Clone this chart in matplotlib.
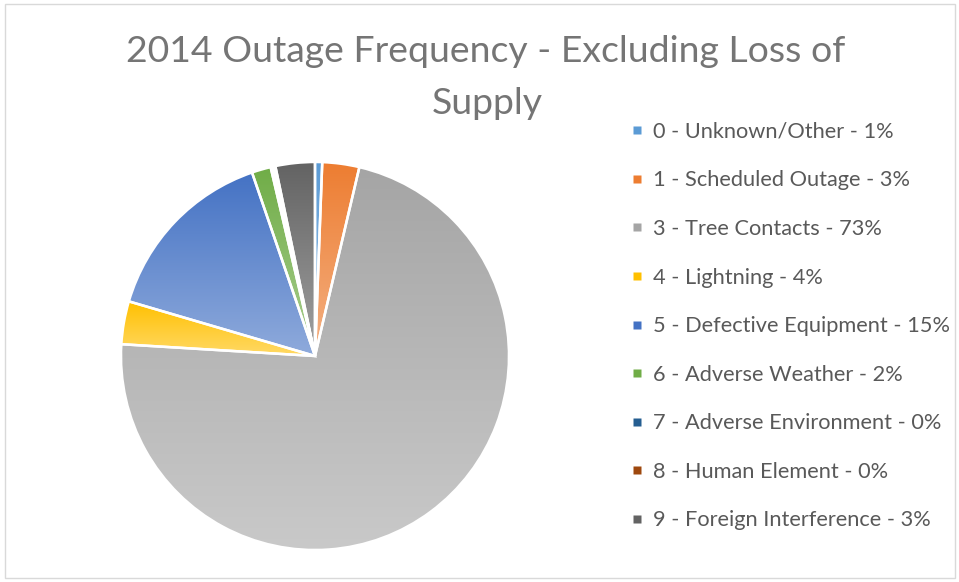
import numpy as np
import matplotlib
matplotlib.use("Agg")
import matplotlib.pyplot as plt
from matplotlib.colors import to_rgb
from matplotlib.lines import Line2D
from matplotlib.patches import Rectangle

## Data
categories = ["0 - Unknown/Other", "1 - Scheduled Outage", "3 - Tree Contacts",
              "4 - Lightning", "5 - Defective Equipment", "6 - Adverse Weather",
              "7 - Adverse Environment", "8 - Human Element", "9 - Foreign Interference"]
shares = [0.6, 3.1, 72.8, 3.6, 15.3, 1.6, 0.2, 0.2, 3.3]
pct_labels = ["1%", "3%", "73%", "4%", "15%", "2%", "0%", "0%", "3%"]
colors = ["#5B9BD5", "#ED7D31", "#A5A5A5", "#FFC000", "#4472C4",
          "#70AD47", "#255E91", "#9E480E", "#636363"]

plt.rcParams['font.family'] = ['Lato', 'DejaVu Sans']

W, H = 959, 582
fig = plt.figure(figsize=(W / 100, H / 100), dpi=100)

## chart border
fig.patches.append(Rectangle((5 / W, 4 / H), 950 / W, 574 / H, transform=fig.transFigure,
                             fill=False, edgecolor="#D9D9D9", linewidth=1))

cx, cy, r = 315, 356, 194
ax = fig.add_axes([(cx - r) / W, (H - cy - r) / H, 2 * r / W, 2 * r / H])
wedges, _ = ax.pie(shares, colors=colors, startangle=90, counterclock=False,
                   wedgeprops=dict(edgecolor="white", linewidth=1.8))
ax.set_aspect("equal")
ax.axis("off")

## gradient fill per slice: base colour at top, lighter tint at bottom
for w, c in zip(wedges, colors):
    base = np.array(to_rgb(c))
    light = base + (1 - base) * 0.4
    bb = w.get_path().get_extents(w.get_patch_transform())
    if bb.width <= 0 or bb.height <= 0:
        continue
    t = np.linspace(0, 1, 256)[:, None]
    grad = (base[None, :] * (1 - t) + light[None, :] * t)[:, None, :]
    im = ax.imshow(grad, extent=[bb.x0, bb.x1, bb.y0, bb.y1], origin="upper",
                   aspect="auto", zorder=w.get_zorder(), interpolation="bilinear")
    im.set_clip_path(w)
    w.set_facecolor("none")
    w.set_zorder(w.get_zorder() + 0.5)
ax.set_xlim(-1.0, 1.0)
ax.set_ylim(-1.0, 1.0)

## Title
fig.text(486 / W, 1 - 52 / H, "2014 Outage Frequency - Excluding Loss of",
         ha="center", va="center", fontsize=26.9, color="#757575")
fig.text(487 / W, 1 - 103 / H, "Supply",
         ha="center", va="center", fontsize=26.9, color="#757575")

## Legend
handles = [Line2D([], [], marker="s", linestyle="none", markersize=5.5,
                  markerfacecolor=c, markeredgecolor="none") for c in colors]
labels = [f"{c} - {p}" for c, p in zip(categories, pct_labels)]
fig.legend(handles, labels, loc="upper left", bbox_to_anchor=(621 / W, 1 - 111 / H),
           frameon=False, fontsize=15.7, labelcolor="#595959", handlelength=0.5,
           handletextpad=0.45, labelspacing=1.31, borderpad=0)

fig.savefig("out.png", dpi=100)
